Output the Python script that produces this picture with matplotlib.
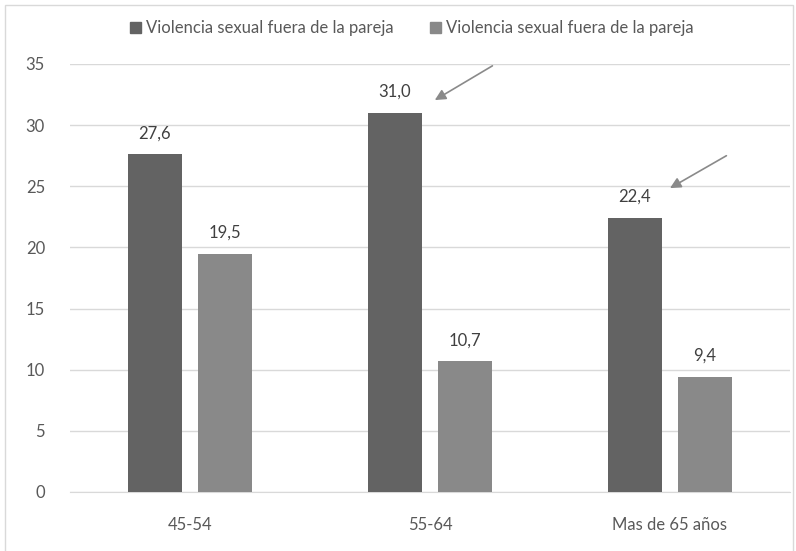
import matplotlib
matplotlib.use("Agg")
import matplotlib.pyplot as plt
from matplotlib.patches import Patch, Rectangle
import numpy as np

# Data
categories = ["45-54", "55-64", "Mas de 65 años"]
serie_1 = [27.6, 31.0, 22.4]
serie_2 = [19.5, 10.7, 9.4]
legend_labels = ["Violencia sexual fuera de la pareja", "Violencia sexual fuera de la pareja"]
y_ticks = [0, 5, 10, 15, 20, 25, 30, 35]

dark = "#636363"
light = "#898989"
text_col = "#595959"

plt.rcParams["font.family"] = ["Lato", "DejaVu Sans"]

fig = plt.figure(figsize=(7.96, 5.51), dpi=100)
ax = fig.add_axes([70 / 796, 59 / 551, 720 / 796, 428 / 551])

x = np.arange(len(categories))
w = 0.225
off = 0.146
b1 = ax.bar(x - off, serie_1, w, color=dark, zorder=3)
b2 = ax.bar(x + off, serie_2, w, color=light, zorder=3)

for bars, vals in ((b1, serie_1), (b2, serie_2)):
    for rect, v in zip(bars, vals):
        ax.annotate(f"{v:.1f}".replace(".", ","),
                    (rect.get_x() + rect.get_width() / 2, v),
                    xytext=(0, 21), textcoords="offset pixels",
                    ha="center", va="center", fontsize=12, color="#404040")

# arrows pointing at the highlighted values
ax.annotate("", xy=(1.02, 32.05), xytext=(1.26, 34.85),
            arrowprops=dict(arrowstyle="-|>", color="#8a8a8a", lw=1.2,
                            mutation_scale=16, shrinkA=0, shrinkB=0))
ax.annotate("", xy=(2.0, 24.85), xytext=(2.235, 27.5),
            arrowprops=dict(arrowstyle="-|>", color="#8a8a8a", lw=1.2,
                            mutation_scale=16, shrinkA=0, shrinkB=0))

ax.set_xlim(-0.5, 2.5)
ax.set_ylim(0, 35)
ax.set_yticks(y_ticks)
ax.set_xticks(x)
ax.set_xticklabels(categories)
ax.yaxis.grid(True, color="#d9d9d9", lw=1, zorder=0)
ax.set_axisbelow(True)
for s in ("top", "right", "left"):
    ax.spines[s].set_visible(False)
ax.spines["bottom"].set_color("#d9d9d9")
ax.tick_params(axis="both", length=0, labelsize=12, labelcolor=text_col)
ax.tick_params(axis="x", pad=18)
ax.tick_params(axis="y", pad=18)

handles = [Patch(color=dark), Patch(color=light)]
fig.legend(handles, legend_labels, loc="center", bbox_to_anchor=(412 / 796, 1 - 28 / 551),
           ncol=2, frameon=False, fontsize=12, labelcolor=text_col,
           handlelength=0.65, handleheight=0.65, handletextpad=0.3, columnspacing=2.2)

fig.patches.append(Rectangle((5 / 796, -0.1), 788 / 796, 1.1 - 5 / 551,
                             transform=fig.transFigure, fill=False,
                             edgecolor="#d9d9d9", lw=1))

fig.savefig("out.png", dpi=100)
